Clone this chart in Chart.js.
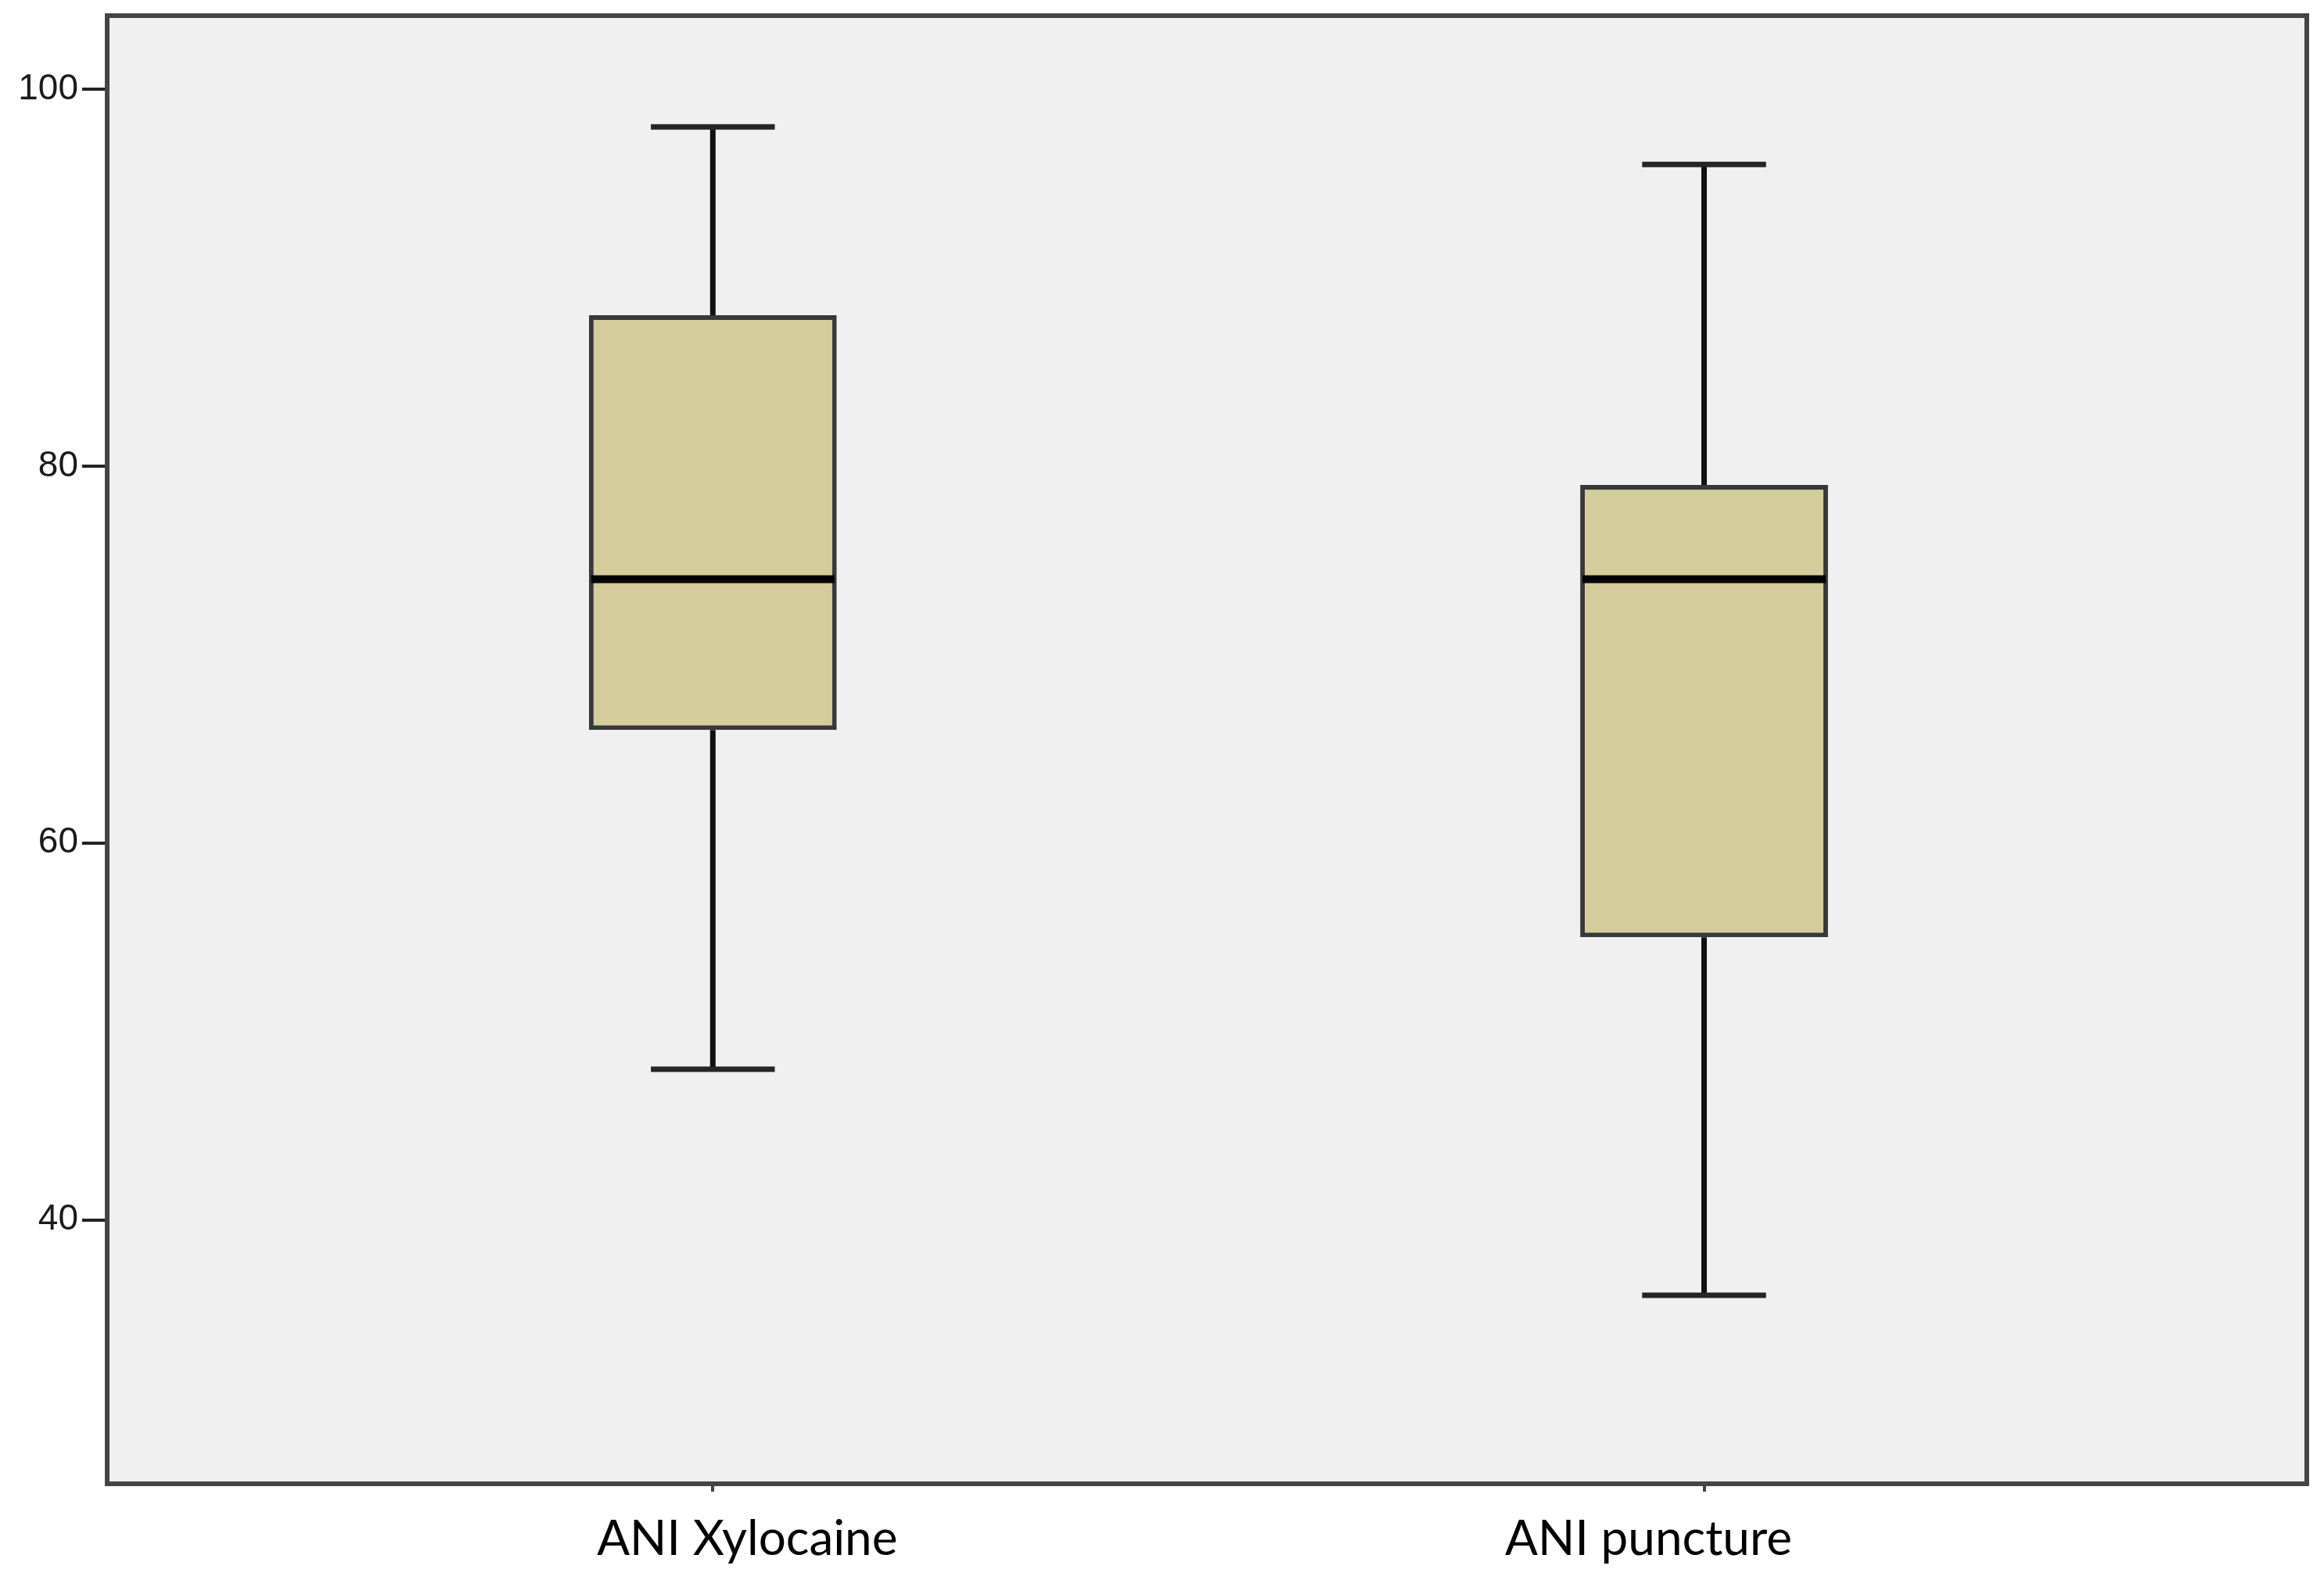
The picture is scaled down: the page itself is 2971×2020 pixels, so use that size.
<!DOCTYPE html>
<html>
<head>
<meta charset="utf-8">
<script src="https://cdn.jsdelivr.net/npm/chart.js@4/dist/chart.umd.min.js"></script>
<style>
  html, body { margin: 0; padding: 0; background: #fff; }
  #wrap { width: 2971px; height: 2020px; position: relative; }
</style>
</head>
<body>
<div id="wrap"><canvas id="myChart"></canvas></div>
<script>
// box plot values
const groups = ['ANI Xylocaine', 'ANI puncture'];
const whiskerLow = [48, 36];
const q1 = [66, 55];
const median = [74, 74];
const q3 = [88, 79];
const whiskerHigh = [98, 96];
const yTicks = [40, 60, 80, 100];

// labels in the original sit a bit off their ticks
const labelShift = [44, -71];

const boxData = groups.map((g, i) => ({ x: i + 1, y: [q1[i], q3[i]] }));

const boxExtras = {
  id: 'boxExtras',
  beforeDraw(chart) {
    const { ctx, chartArea: a } = chart;
    ctx.save();
    ctx.fillStyle = '#ffffff';
    ctx.fillRect(0, 0, chart.width, chart.height);
    ctx.fillStyle = '#f0f0f0';
    ctx.fillRect(a.left, a.top, a.right - a.left, a.bottom - a.top);
    ctx.restore();
  },
  afterDatasetsDraw(chart) {
    const { ctx, chartArea: a } = chart;
    const xs = chart.scales.x, ys = chart.scales.y;
    const bars = chart.getDatasetMeta(0).data;
    ctx.save();
    groups.forEach((g, i) => {
      const x = xs.getPixelForValue(i + 1);
      const half = bars[i].width / 2;
      const cap = half / 2;
      // whiskers
      ctx.strokeStyle = '#111';
      ctx.lineWidth = 7;
      ctx.beginPath();
      ctx.moveTo(x, ys.getPixelForValue(q3[i]));
      ctx.lineTo(x, ys.getPixelForValue(whiskerHigh[i]));
      ctx.moveTo(x, ys.getPixelForValue(q1[i]));
      ctx.lineTo(x, ys.getPixelForValue(whiskerLow[i]));
      ctx.stroke();
      ctx.strokeStyle = '#262626';
      ctx.beginPath();
      ctx.moveTo(x - cap, ys.getPixelForValue(whiskerHigh[i]));
      ctx.lineTo(x + cap, ys.getPixelForValue(whiskerHigh[i]));
      ctx.moveTo(x - cap, ys.getPixelForValue(whiskerLow[i]));
      ctx.lineTo(x + cap, ys.getPixelForValue(whiskerLow[i]));
      ctx.stroke();
      // median
      ctx.strokeStyle = '#000';
      ctx.lineWidth = 10;
      ctx.beginPath();
      ctx.moveTo(x - half + 3, ys.getPixelForValue(median[i]));
      ctx.lineTo(x + half - 3, ys.getPixelForValue(median[i]));
      ctx.stroke();
      // category label
      ctx.fillStyle = '#000';
      ctx.font = '62px Lato, "Open Sans", sans-serif';
      ctx.textAlign = 'center';
      ctx.textBaseline = 'alphabetic';
      ctx.fillText(g, x + labelShift[i], a.bottom + 91);
    });
    // frame
    ctx.strokeStyle = '#444';
    ctx.lineWidth = 6;
    ctx.strokeRect(a.left, a.top, a.right - a.left, a.bottom - a.top);
    ctx.restore();
  }
};

const ctx = document.getElementById('myChart').getContext('2d');
const myChart = new Chart(ctx, {
  type: 'bar',
  data: {
    datasets: [{
      data: boxData,
      backgroundColor: '#d4cc9a',
      borderColor: '#383838',
      borderWidth: 6,
      borderSkipped: false,
      categoryPercentage: 1,
      barPercentage: 0.25
    }]
  },
  options: {
    responsive: true,
    maintainAspectRatio: false,
    animation: false,
    layout: { padding: { top: 20, right: 22, left: 0, bottom: 0 } },
    plugins: { legend: { display: false }, tooltip: { enabled: false } },
    scales: {
      x: {
        type: 'linear',
        min: 0.389,
        max: 2.608,
        offset: false,
        afterBuildTicks: (s) => { s.ticks = groups.map((g, i) => ({ value: i + 1 })); },
        afterFit: (s) => { s.height = 123; s.paddingLeft = 0; s.paddingRight = 0; },
        ticks: { display: false },
        border: { display: false },
        grid: { offset: false, drawOnChartArea: false, drawTicks: true, tickLength: 10, lineWidth: 4, color: '#444' }
      },
      y: {
        min: 26,
        max: 103.9,
        afterBuildTicks: (s) => { s.ticks = yTicks.map(v => ({ value: v })); },
        afterFit: (s) => { s.width = 137; s.paddingTop = 0; s.paddingBottom = 0; },
        ticks: {
          padding: 5,
          color: '#1a1a1a',
          font: { family: '"Liberation Sans", Arial, sans-serif', size: 46 }
        },
        border: { display: false },
        grid: { drawOnChartArea: false, drawTicks: true, tickLength: 32, lineWidth: 4, color: '#222' }
      }
    }
  },
  plugins: [boxExtras]
});
</script>
</body>
</html>
